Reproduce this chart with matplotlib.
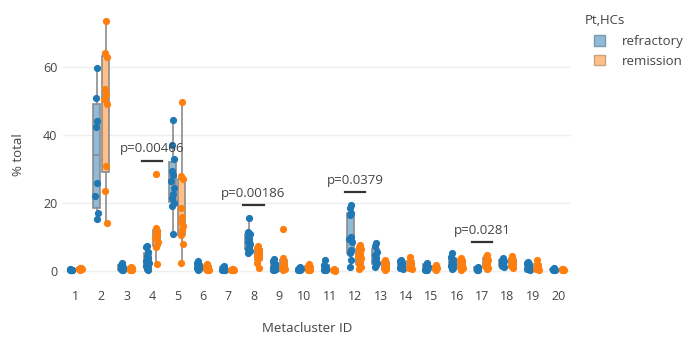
import numpy as np
import matplotlib
matplotlib.use('Agg')
import matplotlib.pyplot as plt
from matplotlib.patches import Patch

plt.rcParams['font.family'] = ['Open Sans', 'DejaVu Sans']

# % of total cells per metacluster, one list per patient
clusters = list(range(1, 21))

refractory = [
    [0.2, 0.3, 0.3, 0.4, 0.4, 0.5, 0.2, 0.3],
    [59.6, 51.0, 44.0, 42.5, 25.9, 22.0, 17.2, 15.2],
    [2.3, 1.8, 1.3, 1.0, 0.7, 0.5, 0.4, 0.3],
    [7.3, 7.0, 5.5, 4.5, 3.8, 3.0, 2.5, 2.0, 1.5, 1.0, 0.5, 0.3],
    [44.4, 37.0, 33.0, 29.5, 28.3, 26.5, 24.5, 22.8, 21.5, 20.0, 19.0, 11.0],
    [2.8, 2.3, 1.9, 1.5, 1.2, 0.9, 0.6, 0.4],
    [1.5, 1.1, 0.8, 0.6, 0.4, 0.3, 0.2],
    [15.5, 11.6, 10.8, 10.0, 9.3, 8.6, 8.0, 7.2, 6.5, 5.8, 5.2],
    [3.4, 2.8, 2.2, 1.6, 1.2, 0.8, 0.5, 0.3, 0.2],
    [1.1, 0.9, 0.7, 0.5, 0.3, 0.2],
    [3.2, 1.8, 1.2, 0.8, 0.5, 0.3, 0.2],
    [19.4, 18.4, 17.0, 16.5, 10.1, 9.3, 8.6, 6.2, 5.2, 3.2, 1.3],
    [8.1, 7.3, 5.7, 4.8, 3.7, 3.0, 2.3, 1.8, 1.3],
    [3.3, 2.8, 2.4, 2.0, 1.5, 1.0, 0.6],
    [2.4, 1.8, 1.2, 0.8, 0.4, 0.2],
    [5.2, 4.0, 3.2, 2.6, 2.0, 1.5, 1.0, 0.5],
    [1.2, 0.9, 0.6, 0.4, 0.3],
    [3.7, 3.3, 2.9, 2.5, 2.0, 1.6, 1.2],
    [2.7, 2.3, 1.9, 1.5, 1.1, 0.7, 0.3],
    [0.8, 0.6, 0.4, 0.3, 0.2],
]

remission = [
    [0.4, 0.5, 0.6, 0.7, 0.8, 0.5, 0.6, 0.9],
    [73.5, 64.0, 63.0, 53.5, 52.0, 50.5, 49.0, 31.0, 23.5, 14.0],
    [1.2, 1.0, 0.8, 0.6, 0.5, 0.4, 0.3, 0.2],
    [28.6, 12.6, 11.8, 11.0, 10.5, 9.7, 8.5, 7.5, 7.0, 2.2],
    [49.6, 28.0, 27.0, 18.5, 16.0, 14.5, 13.2, 12.0, 10.5, 7.8, 2.3],
    [2.0, 1.6, 1.3, 1.0, 0.8, 0.6, 0.4, 0.3],
    [0.7, 0.5, 0.4, 0.3, 0.2, 0.3],
    [7.3, 6.8, 6.2, 5.6, 5.0, 4.4, 4.0, 3.6, 2.3, 1.0],
    [12.3, 3.9, 2.3, 1.8, 1.4, 1.0, 0.7, 0.5, 0.3],
    [2.0, 1.6, 1.2, 0.9, 0.6, 0.4, 0.3],
    [0.5, 0.4, 0.3, 0.2, 0.1],
    [7.6, 7.0, 6.4, 5.7, 5.0, 4.3, 3.7, 2.8, 2.0, 1.3, 0.5],
    [3.2, 2.7, 2.2, 1.8, 1.4, 1.0, 0.6, 0.3],
    [4.0, 3.0, 2.4, 1.9, 1.4, 1.0, 0.7],
    [1.8, 1.3, 0.9, 0.5, 0.3],
    [3.8, 3.3, 2.8, 2.3, 1.8, 1.2, 0.8, 0.4],
    [4.6, 4.0, 3.3, 2.6, 2.0, 1.5, 1.0, 0.5],
    [4.3, 3.5, 2.8, 2.4, 2.0, 1.5, 1.0],
    [3.2, 2.2, 1.6, 1.2, 0.8, 0.5, 0.3],
    [0.7, 0.5, 0.4, 0.3, 0.2],
]

# significant comparisons
sig_clusters = [4, 8, 12, 17]
sig_labels = ['p=0.00466', 'p=0.00186', 'p=0.0379', 'p=0.0281']

groups = ['refractory', 'remission']
point_colors = ['#1f77b4', '#ff7f0e']
box_fills = ['#8fbbd9', '#ffbf86']
legend_edges = ['#7f98ad', '#c9a27e']
box_line = '#8c8c8c'
text_color = '#444444'

offset = 0.18
box_width = 0.28
jitter = [0.0, -0.035, 0.035, -0.018, 0.018, -0.05, 0.05]


def box_stats(vals):
    """Quartiles (n+1 interpolation) and 1.5 IQR whiskers, no fliers."""
    v = np.sort(np.asarray(vals, dtype=float))
    q1, med, q3 = np.percentile(v, [25, 50, 75], method='weibull')
    iqr = q3 - q1
    lo = v[v >= q1 - 1.5 * iqr].min()
    hi = v[v <= q3 + 1.5 * iqr].max()
    return dict(med=med, q1=q1, q3=q3, whislo=lo, whishi=hi, fliers=[])


fig = plt.figure(figsize=(6.83, 3.39), dpi=100)
ax = fig.add_axes([63 / 683, 1 - 283 / 339, 508 / 683, 272 / 339])

for g, data in enumerate([refractory, remission]):
    sign = -1 if g == 0 else 1
    pos = [c + sign * offset for c in clusters]
    stats = [box_stats(v) for v in data]
    ax.bxp(stats, positions=pos, widths=box_width, showcaps=False,
           showfliers=False, patch_artist=True,
           boxprops=dict(facecolor=box_fills[g], edgecolor=box_line, lw=1.2),
           whiskerprops=dict(color=box_line, lw=1.2),
           medianprops=dict(color=box_line, lw=1.2),
           zorder=2)
    for p, vals in zip(pos, data):
        xs = [p + jitter[i % len(jitter)] for i in range(len(vals))]
        ax.plot(xs, vals, 'o', color=point_colors[g], ms=5.2, mew=0,
                zorder=3)

# p-value brackets above each tested cluster
for c, lab in zip(sig_clusters, sig_labels):
    top = max(refractory[c - 1] + remission[c - 1])
    y_line = top + 3.8
    ax.plot([c - 0.4, c + 0.4], [y_line, y_line], color='#333333', lw=1.6,
            zorder=4)
    ax.text(c, y_line + 1.6, lab, ha='center', va='bottom', fontsize=9.5,
            color=text_color, zorder=5)

ax.set_xlim(0.5, 20.5)
ax.set_ylim(-3.53, 76.5)
ax.set_xticks(clusters)
ax.set_xticklabels([str(c) for c in clusters])
ax.set_yticks([0, 20, 40, 60])
ax.tick_params(axis='both', length=0, labelsize=9, labelcolor=text_color)
ax.tick_params(axis='x', pad=5)
ax.tick_params(axis='y', pad=4)
ax.yaxis.grid(True, color='#eeeeee', lw=1)
ax.set_axisbelow(True)
for s in ax.spines.values():
    s.set_visible(False)

ax.set_xlabel('Metacluster ID', fontsize=9.5, color=text_color)
ax.xaxis.set_label_coords((307 - 63) / 508, -(322 - 283) / 272)
ax.set_ylabel('% total', fontsize=9.5, color=text_color)
ax.yaxis.set_label_coords(-(63 - 25) / 508, 0.5 + (147 - 155) / 272)

# legend: title on its own, entries indented underneath
fig.text(585 / 683, 1 - 21 / 339, 'Pt,HCs', fontsize=9.5, color=text_color,
         ha='left', va='center')
handles = [Patch(facecolor=box_fills[i], edgecolor=legend_edges[i], lw=1)
           for i in range(2)]
leg = fig.legend(handles, groups, loc='upper left',
                 bbox_to_anchor=(594 / 683, 1 - 35 / 339), frameon=False,
                 fontsize=9.5, handlelength=0.85, handleheight=0.85,
                 handletextpad=1.3, labelspacing=0.5, borderaxespad=0,
                 borderpad=0)
for t in leg.get_texts():
    t.set_color(text_color)

fig.savefig('out.png', dpi=100, facecolor='white')
